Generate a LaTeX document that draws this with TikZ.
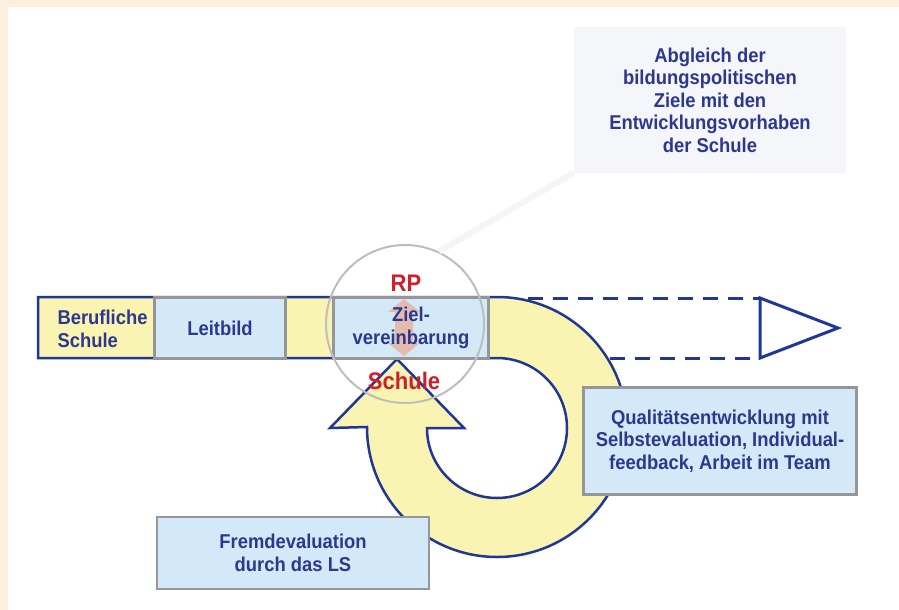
\documentclass[tikz,border=0pt]{standalone}
\usepackage{fontspec}
\setmainfont[FakeStretch=0.92]{Liberation Sans}
\usetikzlibrary{positioning}

\definecolor{navy}{RGB}{33,55,150}
\definecolor{ink}{RGB}{43,56,142}
\definecolor{lemon}{RGB}{250,244,178}
\definecolor{sky}{RGB}{211,233,247}
\definecolor{rim}{RGB}{150,150,152}
\definecolor{rpred}{RGB}{205,32,42}
\definecolor{paper}{RGB}{253,239,221}
\definecolor{salmon}{RGB}{236,172,150}
\definecolor{haze}{RGB}{244,246,249}

\begin{document}
\begin{tikzpicture}[x=1pt,y=-1pt,
  box/.style={draw=rim, line width=2.5pt, fill=sky, text=ink, align=center, inner sep=0pt, font=\bfseries\fontsize{20}{22.5}\selectfont},
  lbl/.style={text=ink, align=center, font=\bfseries\fontsize{20}{22.5}\selectfont},
  hot/.style={text=rpred, inner sep=0pt, font=\bfseries\fontsize{24}{26}\selectfont}]
% frame
\fill[paper] (0,0) rectangle (899,610);
\fill[white] (8,7) rectangle (899,610);
\useasboundingbox (0,0) rectangle (899,610);

% box top right
\node[lbl, fill=haze, minimum width=272, minimum height=145] (abgleich) at (710,100) {Abgleich der\\bildungspolitischen\\Ziele mit den\\Entwicklungsvorhaben\\der Schule};

% bar with loop
\draw[navy, fill=lemon, line width=2.5pt, line join=miter] (38,297) -- (497,297) arc[start angle=-90, end angle=180, radius=130] -- (330,428) -- (397,359) -- (464,428) -- (427,428) arc[start angle=180, end angle=-90, radius=70] -- (38,358) -- cycle;

\node[lbl, align=left, anchor=west] (beruf) at (54,329) {Berufliche\\Schule};
\node[box, minimum width=131, minimum height=61] (leit) at (220,328) {Leitbild};
\node[box, minimum width=155, minimum height=61] (ziel) at (411,328) {};
% double arrow RP <-> Schule
\fill[salmon, opacity=0.75] (404,299) -- (420,312) -- (413,312) -- (413,343) -- (420,343) -- (404,356) -- (388,343) -- (395,343) -- (395,312) -- (388,312) -- cycle;
\node[lbl] (zieltext) at (ziel.center) {Ziel-\\vereinbarung};

\node[circle, draw=black!26, line width=2pt, minimum size=158, inner sep=0pt] (lens) at (405,324) {};
\node[hot] (rp) at (406,283) {RP};
\node[hot] (schule) at (404,381) {Schule};

% dashed arrow
\coordinate (dtop) at (528,298);
\coordinate (dbot) at (610,358);
\coordinate (tri1) at (760,298);
\coordinate (tri2) at (838,328);
\coordinate (tri3) at (760,358);
\draw[navy, line width=3pt, dash pattern=on 15pt off 10pt] (dtop) -- (tri1);
\draw[navy, line width=3pt, dash pattern=on 15pt off 10pt] (dbot) -- (tri3);
\draw[navy, line width=3pt, fill=white, line join=miter] (tri1) -- (tri2) -- (tri3) -- cycle;

\node[box, minimum width=273, minimum height=107] (quali) at (720,441) {Qualitätsentwicklung mit\\Selbstevaluation, Individual-\\feedback, Arbeit im Team};
\node[box, minimum width=272, minimum height=72] (fremd) at (293,553) {Fremdevaluation\\durch das LS};

\draw[black!4, line width=6pt] (lens.65) -- (abgleich.south west);
\end{tikzpicture}
\end{document}
